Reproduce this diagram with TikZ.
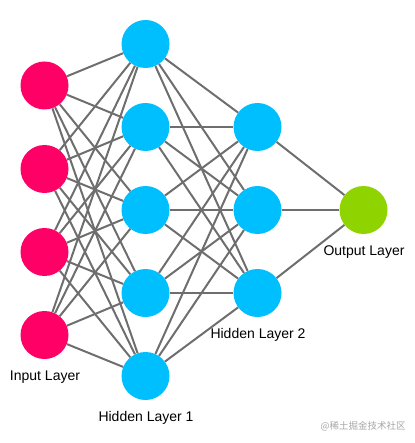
\documentclass[tikz,border=0pt]{standalone}
\usepackage{fontspec}
\setmainfont{Liberation Sans}
\newfontfamily\cjk{Noto Sans CJK SC}
\definecolor{inpink}{RGB}{255,0,102}
\definecolor{hidcyan}{RGB}{0,191,255}
\definecolor{outgreen}{RGB}{143,212,0}
\definecolor{edgegray}{RGB}{110,110,110}
\begin{document}
\begin{tikzpicture}[x=1pt,y=-1pt,
  neuron/.style={circle,minimum size=48pt,inner sep=0pt,draw=none},
  inneuron/.style={neuron,fill=inpink},
  hidneuron/.style={neuron,fill=hidcyan},
  outneuron/.style={neuron,fill=outgreen},
  edge/.style={draw=edgegray,line width=2pt},
  lbl/.style={font=\fontsize{14}{16}\selectfont,text=black,inner sep=0pt}]
\useasboundingbox (0,0) rectangle (414,443);
% nodes
\foreach \i/\y in {1/85.5,2/169,3/252,4/335}
  \node[inneuron] (i\i) at (44.5,\y) {};
\foreach \i/\y in {1/44,2/127,3/210,4/293,5/376}
  \node[hidneuron] (h\i) at (145.5,\y) {};
\foreach \i/\y in {1/127,2/210,3/293}
  \node[hidneuron] (g\i) at (257.5,\y) {};
\node[outneuron] (o) at (363.5,210) {};
% edges
\foreach \a in {1,...,4}
  \foreach \b in {1,...,5}
    \draw[edge] (i\a) -- (h\b);
\foreach \a in {1,...,5}
  \foreach \b in {1,...,3}
    \draw[edge] (h\a) -- (g\b);
\foreach \a in {1,...,3}
  \draw[edge] (g\a) -- (o);
% labels
\node[lbl] (li) at (45,377) {Input Layer};
\node[lbl] (lh1) at (146,417.5) {Hidden Layer 1};
\node[lbl] (lh2) at (258,335) {Hidden Layer 2};
\node[lbl] (lo) at (364,252) {Output Layer};
\node[inner sep=0pt,text=black!35,font=\cjk\fontsize{9.5}{11}\selectfont] (wm) at (363,426) {@稀土掘金技术社区};
\end{tikzpicture}
\end{document}
